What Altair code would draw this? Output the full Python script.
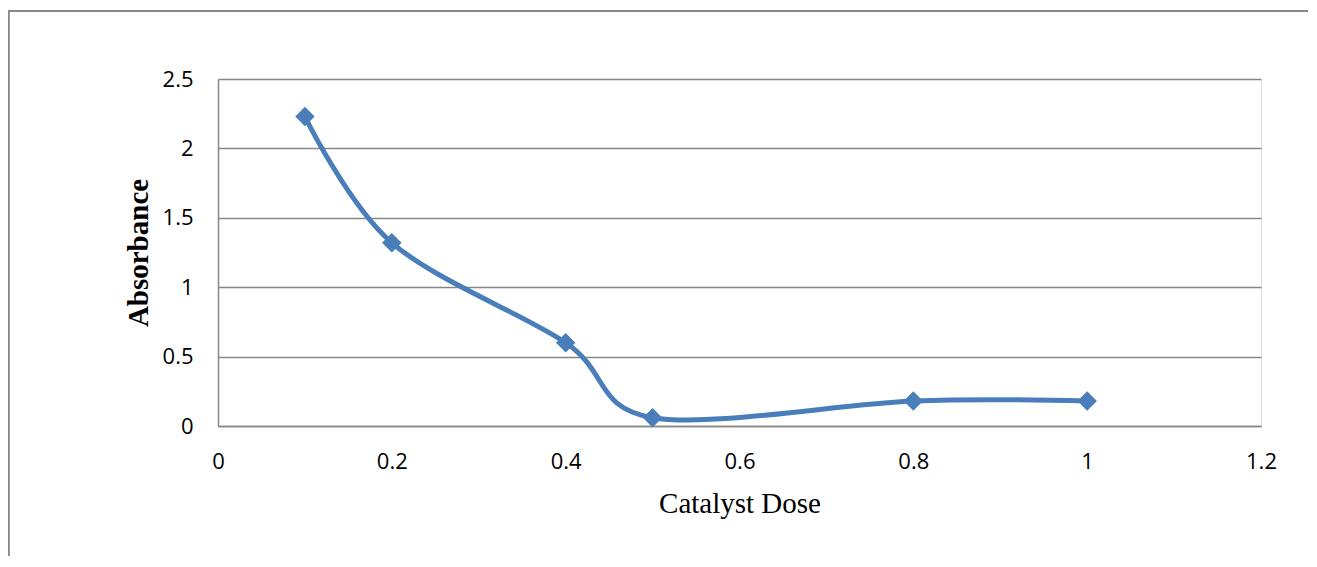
import altair as alt
import pandas as pd

# Data
catalyst_dose = [0.1, 0.2, 0.4, 0.5, 0.8, 1.0]
absorbance = [2.23, 1.32, 0.60, 0.06, 0.18, 0.18]

x_ticks = [0, 0.2, 0.4, 0.6, 0.8, 1.0, 1.2]
y_ticks = [0, 0.5, 1.0, 1.5, 2.0, 2.5]

df = pd.DataFrame({"dose": catalyst_dose, "abs": absorbance})

GRAY = "#878787"
BLUE = "#4A7EBB"
TICK_FONT = "Open Sans, sans-serif"
TITLE_FONT = "Times New Roman, Liberation Serif, serif"

x_enc = alt.X(
    "dose:Q",
    scale=alt.Scale(domain=[0, 1.2], nice=False, zero=False),
    axis=alt.Axis(
        values=x_ticks, format="~g", grid=False, ticks=False,
        domainColor=GRAY, domainWidth=1.5,
        labelFont=TICK_FONT, labelFontSize=22, labelColor="#000000",
        labelPadding=25, labelFlush=False, labelOverlap=False,
        title="Catalyst Dose", titleFont=TITLE_FONT, titleFontSize=29,
        titleFontWeight="normal", titleColor="#000000",
        titleY=86, titleBaseline="alphabetic",
    ),
)
y_enc = alt.Y(
    "abs:Q",
    scale=alt.Scale(domain=[0, 2.5], nice=False),
    axis=alt.Axis(
        values=y_ticks, format="~g", grid=True, gridColor=GRAY, gridWidth=1.5,
        ticks=False, domainColor=GRAY, domainWidth=1.5,
        labelFont=TICK_FONT, labelFontSize=22, labelColor="#000000",
        labelPadding=25, labelFlush=False, labelOverlap=False,
        title="Absorbance", titleFont=TITLE_FONT, titleFontSize=29,
        titleFontWeight="bold", titleColor="#000000",
        titleAngle=270, titleX=-71, titleY=173.5,
        titleAlign="center", titleBaseline="alphabetic",
    ),
)

# outer chart frame (only its top and left edges are inside the picture)
frame_left = alt.Chart(df).mark_rule(color=GRAY, strokeWidth=1.5).encode(
    x=alt.value(-209.5), y=alt.value(-68.3), y2=alt.value(600)
)
frame_top = alt.Chart(df).mark_rule(color=GRAY, strokeWidth=1.5).encode(
    x=alt.value(-209.5), x2=alt.value(1200), y=alt.value(-68.3)
)

line = alt.Chart(df).mark_line(
    interpolate="cardinal", color=BLUE, strokeWidth=5
).encode(x=x_enc, y=y_enc)

points = alt.Chart(df).mark_point(
    shape="diamond", filled=True, size=380, color=BLUE, opacity=1
).encode(x="dose:Q", y="abs:Q")

chart = alt.layer(frame_left, frame_top, line, points).properties(
    width=1043, height=347,
    autosize=alt.AutoSizeParams(type="none"),
    padding={"left": 210, "top": 71, "right": 47, "bottom": 130},
).configure_view(stroke=None).configure(background="white")

chart.save("out.html", embed_options={"renderer": "svg", "actions": False})
